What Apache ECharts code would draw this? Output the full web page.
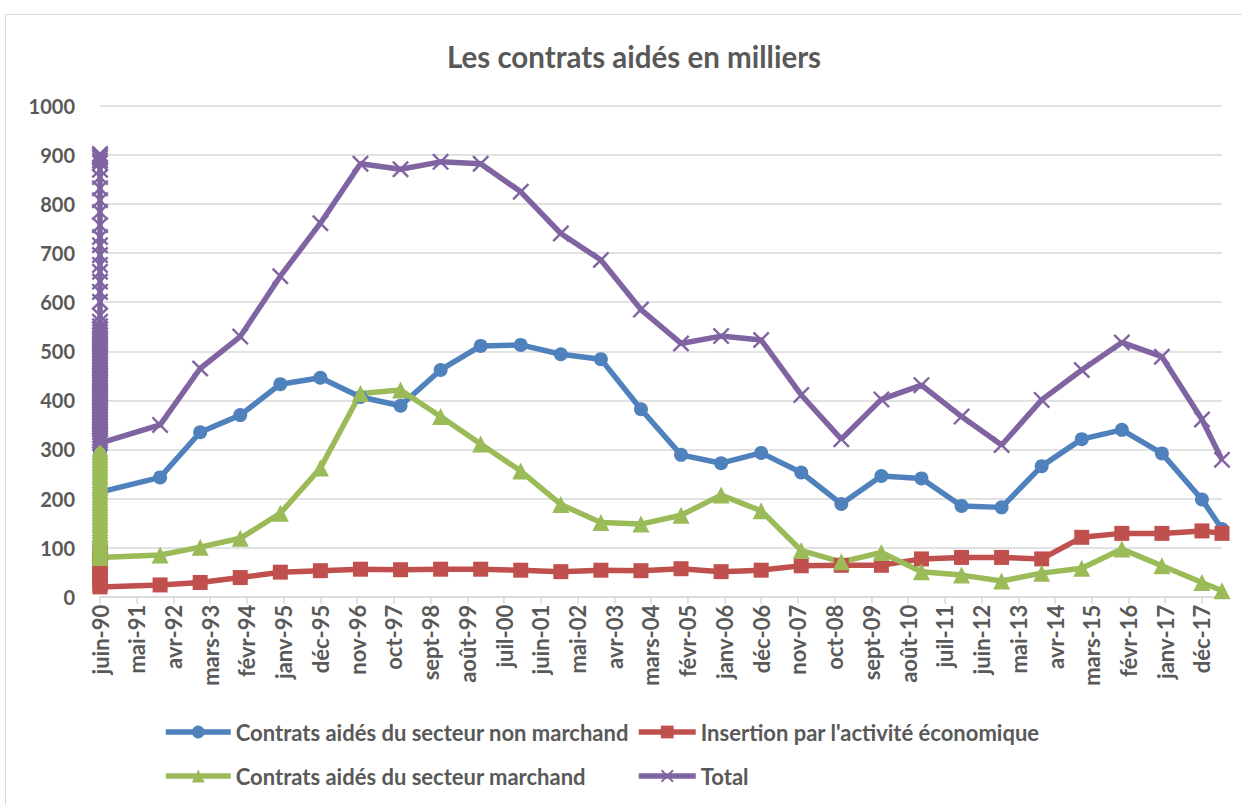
<!DOCTYPE html>
<html>
<head>
<meta charset="utf-8">
<script src="https://cdn.jsdelivr.net/npm/echarts@6/dist/echarts.min.js"></script>
<style>
html,body{margin:0;padding:0;background:#fff;overflow:hidden;}
#chart{width:1242px;height:805px;}
</style>
</head>
<body>
<div id="chart"></div>
<script>
// ---- Data ----
const monthNames = ['janv','févr','mars','avr','mai','juin','juil','août','sept','oct','nov','déc'];
const xTickLabels = ['juin-90','mai-91','avr-92','mars-93','févr-94','janv-95','déc-95','nov-96','oct-97','sept-98','août-99','juil-00','juin-01','mai-02','avr-03','mars-04','févr-05','janv-06','déc-06','nov-07','oct-08','sept-09','août-10','juil-11','juin-12','mai-13','avr-14','mars-15','févr-16','janv-17','déc-17'];
const yTicks = [0,100,200,300,400,500,600,700,800,900,1000];

// points stacked on the first date (juin-90)
const clusterDate = 'juin-90';
const nonMarchandCluster = [540, 534, 527, 519, 512, 505, 497, 490, 483, 475, 468, 461, 452, 446, 438, 431, 423, 416, 409, 401, 394, 386, 379, 372, 364, 357, 349, 342, 335, 327, 320, 312, 305, 297, 290, 283, 275, 268, 260, 252, 245, 238, 230, 222, 213];
const insertionCluster = [95, 90, 86, 81, 77, 72, 68, 63, 59, 55, 50, 46, 42, 37, 33, 29, 24, 20];
const marchandCluster = [302, 296, 291, 285, 279, 273, 268, 262, 256, 250, 245, 239, 233, 227, 222, 216, 210, 204, 198, 193, 187, 181, 175, 170, 164, 158, 152, 147, 141, 135, 129, 124, 118, 112, 107, 101, 96, 91, 86, 80];
const totalCluster = [902, 898, 894, 889, 884, 870, 855, 832, 808, 784, 757, 733, 716, 696, 676, 662, 642, 621, 601, 573, 560, 551, 545, 539, 533, 527, 521, 515, 509, 503, 497, 491, 485, 479, 473, 467, 461, 455, 449, 443, 437, 431, 425, 419, 413, 407, 401, 395, 389, 383, 377, 371, 365, 359, 353, 347, 341, 335, 329, 323, 318, 313];

// yearly points
const dates = ['déc-91','déc-92','déc-93','déc-94','déc-95','déc-96','déc-97','déc-98','déc-99','déc-00','déc-01','déc-02','déc-03','déc-04','déc-05','déc-06','déc-07','déc-08','déc-09','déc-10','déc-11','déc-12','déc-13','déc-14','déc-15','déc-16','déc-17','juin-18'];
const nonMarchand = [243, 335, 370, 433, 446, 407, 389, 462, 511, 513, 494, 484, 382, 289, 272, 293, 253, 189, 246, 241, 185, 182, 266, 321, 340, 292, 198, 138];
const insertion = [24, 29, 39, 50, 53, 56, 55, 56, 56, 54, 51, 54, 53, 57, 51, 54, 63, 64, 64, 77, 80, 80, 77, 121, 129, 129, 134, 129];
const marchand = [85, 101, 119, 170, 262, 414, 421, 367, 311, 256, 188, 151, 148, 166, 207, 175, 94, 71, 90, 51, 44, 32, 48, 58, 97, 63, 29, 12];
const total = [350, 465, 530, 653, 761, 882, 871, 886, 882, 825, 740, 686, 585, 516, 531, 523, 411, 321, 402, 431, 367, 309, 401, 462, 518, 489, 361, 279];

const seriesNames = ['Contrats aidés du secteur non marchand', "Insertion par l'activité économique", 'Contrats aidés du secteur marchand', 'Total'];
const titleText = 'Les contrats aidés en milliers';
const axisStart = 'juin-90';
const axisEnd = 'juin-18';

// ---- helpers ----
function monthIndex(s) {
  const p = s.split('-');
  const m = monthNames.indexOf(p[0]);
  const yy = parseInt(p[1], 10);
  const y = yy < 50 ? 2000 + yy : 1900 + yy;
  return (y - 1990) * 12 + (m - 5);
}
function build(cluster, vals) {
  const x0 = monthIndex(clusterDate);
  return cluster.map(v => [x0, v]).concat(vals.map((v, i) => [monthIndex(dates[i]), v]));
}
const tickValues = xTickLabels.map(monthIndex);

const FONT = 'Lato, "Open Sans", sans-serif';
const TXT = '#595959';
const xSym = 'path://M0,2L2,0L10,8L18,0L20,2L12,10L20,18L18,20L10,12L2,20L0,18L8,10Z';

const chart = echarts.init(document.getElementById('chart'), null, {renderer: 'svg'});
chart.setOption({
  animation: false,
  backgroundColor: '#fff',
  graphic: [
    {type: 'rect', shape: {x: 5.5, y: 14.5, width: 1400, height: 1000}, style: {fill: 'none', stroke: '#d9d9d9', lineWidth: 1}, silent: true},
    {type: 'text', x: 634, y: 56, style: {text: titleText, textAlign: 'center', textVerticalAlign: 'middle', fill: TXT, font: 'bold 29.5px ' + FONT}}
  ],
  grid: {left: 100, right: 20, top: 105.9, bottom: 208.3, containLabel: false},
  xAxis: {
    type: 'value',
    min: monthIndex(axisStart),
    max: monthIndex(axisEnd),
    interval: 11,
    splitLine: {show: false},
    axisLine: {show: true, lineStyle: {color: '#d9d9d9', width: 1.5}},
    axisTick: {show: true, length: 7, lineStyle: {color: '#d9d9d9', width: 1.5}, customValues: tickValues},
    axisLabel: {
      customValues: tickValues,
      rotate: 90, margin: 8,
      color: TXT, fontFamily: FONT, fontWeight: 'bold', fontSize: 22,
      formatter: v => xTickLabels[tickValues.indexOf(v)] || ''
    }
  },
  yAxis: {
    type: 'value', min: yTicks[0], max: yTicks[yTicks.length - 1], interval: 100,
    axisLine: {show: false}, axisTick: {show: false},
    splitLine: {lineStyle: {color: '#d9d9d9', width: 1.5}},
    axisLabel: {margin: 25, color: TXT, fontFamily: FONT, fontWeight: 'bold', fontSize: 20, formatter: v => String(v)}
  },
  legend: [
    {data: [seriesNames[0], seriesNames[2]], orient: 'vertical', left: 158, top: 716, itemWidth: 65, itemHeight: 16, itemGap: 22,
     lineStyle: {width: 5.5}, textStyle: {color: TXT, fontFamily: FONT, fontWeight: 'bold', fontSize: 22}},
    {data: [seriesNames[1], seriesNames[3]], orient: 'vertical', left: 631, top: 716, itemWidth: 57, itemHeight: 16, itemGap: 22,
     lineStyle: {width: 5.5}, textStyle: {color: TXT, fontFamily: FONT, fontWeight: 'bold', fontSize: 22}}
  ],
  series: [
    {name: seriesNames[0], type: 'line', data: build(nonMarchandCluster, nonMarchand), color: '#4f81bd',
     symbol: 'circle', symbolSize: 14, lineStyle: {width: 5.5}, itemStyle: {color: '#4f81bd'}},
    {name: seriesNames[1], type: 'line', data: build(insertionCluster, insertion), color: '#c0504d',
     symbol: 'rect', symbolSize: 15, lineStyle: {width: 5.5}, itemStyle: {color: '#c0504d'}},
    {name: seriesNames[2], type: 'line', data: build(marchandCluster, marchand), color: '#9bbb59',
     symbol: 'triangle', symbolSize: 17, lineStyle: {width: 5.5}, itemStyle: {color: '#9bbb59'}},
    {name: seriesNames[3], type: 'line', data: build(totalCluster, total), color: '#8064a2',
     symbol: xSym, symbolSize: 17, lineStyle: {width: 5.5}, itemStyle: {color: '#8064a2'}}
  ]
});
</script>
</body>
</html>
